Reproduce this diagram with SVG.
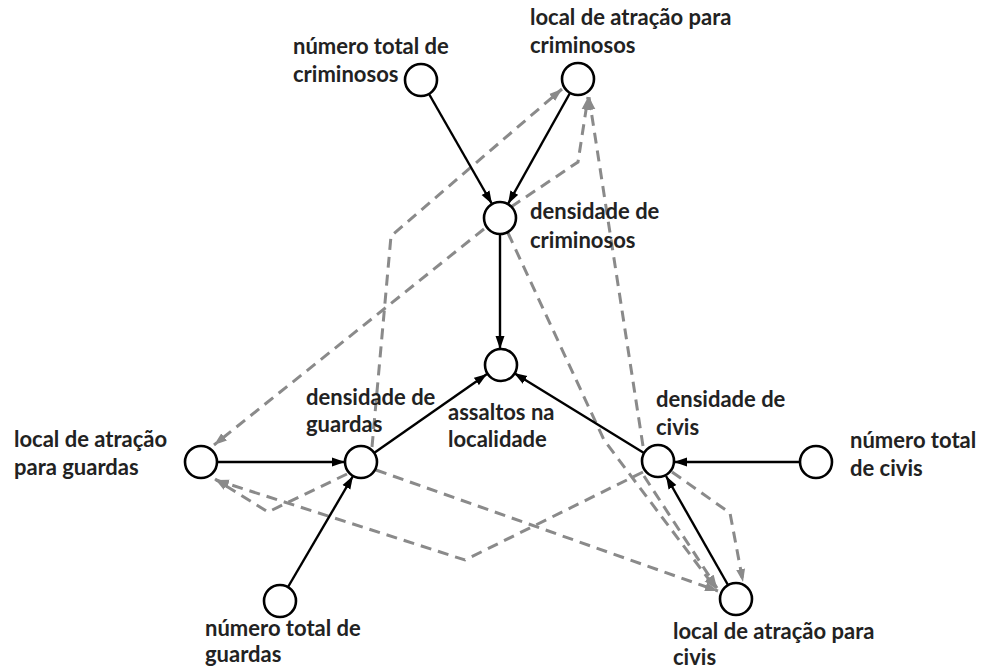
<svg xmlns="http://www.w3.org/2000/svg" width="982" height="669" viewBox="0 0 982 669">
<defs>
<marker id="ab" markerUnits="userSpaceOnUse" markerWidth="14" markerHeight="10" refX="13" refY="5" orient="auto"><path d="M0,0.5 L13,5 L0,9.5 z" fill="#000"/></marker>
<marker id="ag" markerUnits="userSpaceOnUse" markerWidth="14" markerHeight="10" refX="13" refY="5" orient="auto"><path d="M0,0.5 L13,5 L0,9.5 z" fill="#8a8a8a"/></marker>
</defs>
<style>
.n{fill:#fff;stroke:#000;stroke-width:2.6}
.s{fill:none;stroke:#000;stroke-width:2.4;marker-end:url(#ab)}
.d{fill:none;stroke:#8a8a8a;stroke-width:3;stroke-dasharray:11 7;marker-end:url(#ag)}
text{font-family:Lato,"Liberation Sans",Arial,sans-serif;font-weight:bold;font-size:22px;fill:#222}
</style>
<rect width="982" height="669" fill="#fff"/>
<g id="connectors">
<path class="d" d="M372,447 L391,236 L562,89"/>
<path class="d" d="M643,446 L589,97"/>
<path class="d" d="M511,207 L578,162 L588,97"/>
<path class="d" d="M484,229 L214,445"/>
<path class="d" d="M347,474 L268,512 L215,479"/>
<path class="d" d="M643,472 L465,560 L216,480"/>
<path class="d" d="M376,470 L718,591"/>
<path class="d" d="M672,472 L730,513 L743,582"/>
<path class="d" d="M508,233 L604,440 L716,589"/>
<path class="d" d="M644,476 L717,588"/>
<path class="s" d="M429,94 L492,204"/>
<path class="s" d="M570,93 L508,204"/>
<path class="s" d="M500,234 L500,349"/>
<path class="s" d="M374,453 L487,374"/>
<path class="s" d="M644,453 L514,373"/>
<path class="s" d="M217,462 L345,462"/>
<path class="s" d="M800,462 L674,462"/>
<path class="s" d="M288,587 L353,476"/>
<path class="s" d="M728,585 L666,476"/>
</g>
<g id="n_crim"><circle class="n" cx="421" cy="80" r="16"/><text x="293" y="54">número total de</text><text x="293" y="82">criminosos</text></g>
<g id="l_crim"><circle class="n" cx="578" cy="79" r="16"/><text x="530" y="25">local de atração para</text><text x="530" y="53">criminosos</text></g>
<g id="d_crim"><circle class="n" cx="500" cy="218" r="16"/><text x="530" y="219">densidade de</text><text x="530" y="248">criminosos</text></g>
<g id="assaltos"><circle class="n" cx="501" cy="365" r="16"/><text x="448" y="420">assaltos na</text><text x="448" y="447">localidade</text></g>
<g id="d_guard"><circle class="n" cx="361" cy="462" r="16"/><text x="306" y="405">densidade de</text><text x="306" y="432">guardas</text></g>
<g id="l_guard"><circle class="n" cx="201" cy="462" r="16"/><text x="14" y="447">local de atração</text><text x="14" y="475">para guardas</text></g>
<g id="d_civis"><circle class="n" cx="658" cy="461" r="16"/><text x="656" y="407">densidade de</text><text x="656" y="435">civis</text></g>
<g id="n_civis"><circle class="n" cx="816" cy="462" r="16"/><text x="850" y="448">número total</text><text x="850" y="476">de civis</text></g>
<g id="n_guard"><circle class="n" cx="280" cy="601" r="16"/><text x="205" y="636">número total de</text><text x="205" y="662">guardas</text></g>
<g id="l_civis"><circle class="n" cx="736" cy="599" r="16"/><text x="673" y="639">local de atração para</text><text x="673" y="665">civis</text></g>
</svg>
